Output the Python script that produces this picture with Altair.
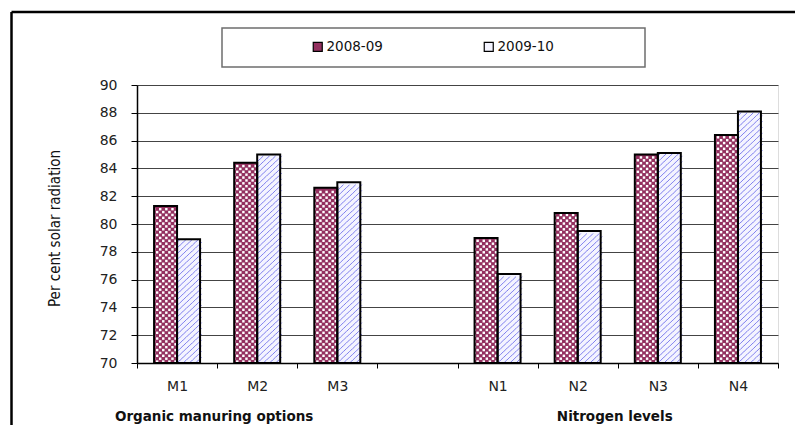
import altair as alt
import pandas as pd

# ---- data ----
categories = ["M1", "M2", "M3", "N1", "N2", "N3", "N4"]
seasons = ["2008-09", "2009-10"]
values_2008 = [81.3, 84.4, 82.6, 79.0, 80.8, 85.0, 86.4]
values_2009 = [78.9, 85.0, 83.0, 76.4, 79.5, 85.1, 88.1]
x_domain = ["M1", "M2", "M3", "gap", "N1", "N2", "N3", "N4"]
y_ticks = [70, 72, 74, 76, 78, 80, 82, 84, 86, 88, 90]
group_labels = ["Organic manuring options", "Nitrogen levels"]
group_anchor = ["M1", "N2"]

# ---- layout constants ----
W, H = 641, 278
Y_MIN, Y_MAX = 70, 90
step = W / len(x_domain)
bar_w = 23.0
cell = bar_w / 8
off0 = (step - 2 * bar_w) / 2
row_h = cell / (H / (Y_MAX - Y_MIN))

rows = []
for cat, a, b in zip(categories, values_2008, values_2009):
    rows.append(dict(category=cat, season=seasons[0], value=a))
    rows.append(dict(category=cat, season=seasons[1], value=b))
bars = pd.DataFrame(rows)

# texture tables (checker for 2008-09, diagonal hatch for 2009-10)
sub_domain = ["s%02d" % i for i in range(16)]
check, hatch = [], []
for r in bars.itertuples():
    n = int((r.value - Y_MIN) / row_h + 1e-9)
    for i in range(n):
        yc = Y_MIN + (i + 0.5) * row_h
        for c in range(8):
            if r.season == seasons[0] and (i + c) % 2 == 1:
                check.append(dict(category=r.category, sub=sub_domain[c], y=yc))
            if r.season == seasons[1] and (i + c) % 2 == 0:
                hatch.append(dict(category=r.category, sub=sub_domain[8 + c], y=yc))
check = pd.DataFrame(check)
hatch = pd.DataFrame(hatch)
groups = pd.DataFrame(dict(category=group_anchor, label=group_labels))

FONT = "DejaVu Sans"

x_scale = alt.Scale(domain=x_domain, paddingInner=0, paddingOuter=0)
x_axis = alt.Axis(
    title=None, labelAngle=0, tickBand="extent", tickSize=5,
    labelExpr="datum.value == 'gap' ? '' : datum.value",
    domainColor="black", tickColor="black", domainWidth=1.5,
    labelFont=FONT, labelFontSize=14, labelColor="#222222", labelPadding=11,
)
x_enc = alt.X("category:N", scale=x_scale, axis=x_axis)
y_axis = alt.Axis(
    values=y_ticks, grid=True, gridColor="#444444", gridWidth=1,
    domainColor="black", tickColor="black", tickSize=6, domainWidth=1.5,
    labelFont=FONT, labelFontSize=14, labelColor="#222222", labelPadding=14,
    title="Per cent solar radiation", titleFont="Liberation Sans Narrow, DejaVu Sans Condensed, Liberation Sans",
    titleFontSize=15, titleFontWeight="normal", titleColor="#111111",
    titleAngle=270, titleX=-78, titleY=H / 2 + 4, titleAlign="center", titleBaseline="alphabetic",
)
y_scale = alt.Scale(domain=[Y_MIN, Y_MAX], zero=False, nice=False)
off_bars = alt.XOffset("season:N", scale=alt.Scale(domain=seasons, range=[off0, off0 + 2 * bar_w],
                                                    paddingInner=0, paddingOuter=0))
off_cells = alt.XOffset("sub:N", scale=alt.Scale(domain=sub_domain, range=[off0, off0 + 2 * bar_w],
                                                  paddingInner=0, paddingOuter=0))

base_bars = alt.Chart(bars).mark_bar(strokeWidth=0).encode(
    x=x_enc, xOffset=off_bars,
    y=alt.Y("value:Q", scale=y_scale, axis=y_axis), y2=alt.datum(Y_MIN),
    fill=alt.Fill("season:N", scale=alt.Scale(domain=seasons, range=["#93305f", "#f4f4ff"]),
                  legend=alt.Legend(orient="none", legendX=174, legendY=-45, direction="horizontal",
                                    title=None, symbolType="square", symbolSize=81,
                                    symbolStrokeColor="black", symbolStrokeWidth=1.2,
                                    labelFont=FONT, labelFontSize=13.5, labelColor="#111111",
                                    labelOffset=2, columnPadding=98)),
)

checker = alt.Chart(check).mark_square(size=cell * cell * 0.72, color="white", opacity=1, strokeWidth=0).encode(
    x=x_enc, xOffset=off_cells, y=alt.Y("y:Q", scale=y_scale, axis=y_axis),
)

hatching = alt.Chart(hatch).mark_point(
    shape="M-1,1L1,-1", size=cell * cell * 1.15, filled=False, stroke="#8080ee", strokeWidth=1.0, opacity=1
).encode(
    x=x_enc, xOffset=off_cells, y=alt.Y("y:Q", scale=y_scale, axis=y_axis),
)

outlines = alt.Chart(bars).mark_bar(fillOpacity=0, stroke="black", strokeWidth=2).encode(
    x=x_enc, xOffset=off_bars,
    y=alt.Y("value:Q", scale=y_scale, axis=y_axis), y2=alt.datum(Y_MIN),
)

group_text = alt.Chart(groups).mark_text(
    font=FONT, fontSize=13.5, fontWeight="bold", color="#111111", dx=-3,
    align="center", baseline="alphabetic",
).encode(
    x=alt.X("category:N", bandPosition=1, scale=x_scale, axis=x_axis),
    y=alt.value(336), text="label:N",
)

one = alt.Data(values=[{"a": 1}])
legend_box = alt.Chart(one).mark_rect(fillOpacity=0, stroke="#6e6e6e", strokeWidth=1.5).encode(
    x=alt.value(85), x2=alt.value(508), y=alt.value(-57), y2=alt.value(-18)
)
frame_top = alt.Chart(one).mark_rule(color="black", strokeWidth=2.5).encode(
    x=alt.value(-125.5), x2=alt.value(660), y=alt.value(-73)
)
frame_left = alt.Chart(one).mark_rule(color="black", strokeWidth=2.5).encode(
    x=alt.value(-125.5), y=alt.value(-73), y2=alt.value(345)
)

chart = alt.layer(
    base_bars, checker, hatching, outlines, group_text, legend_box, frame_top, frame_left
).resolve_scale(xOffset="independent").properties(
    width=W, height=H,
    autosize=alt.AutoSizeParams(type="none"),
    padding={"left": 129, "top": 77, "right": 17, "bottom": 62},
).configure_view(stroke="#999999", strokeWidth=1.5).configure(background="white")

chart.save("out.html", embed_options={"renderer": "svg", "actions": False})
